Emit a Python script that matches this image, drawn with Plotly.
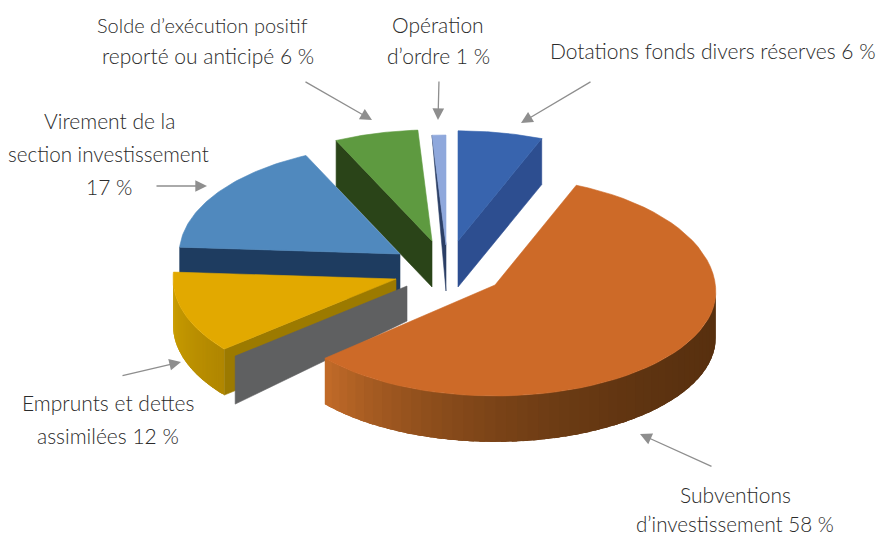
import math
import plotly.graph_objects as go

# ---- data (clockwise from the top of the pie) ----
categories = ["Dotations fonds divers réserves", "Subventions d'investissement",
              "Emprunts et dettes assimilées", "Virement de la section investissement",
              "Solde d'exécution positif reporté ou anticipé", "Opération d'ordre"]
values = [6, 58, 12, 17, 6, 1]
label_lines = ["Solde d’exécution positif", "reporté ou anticipé 6 %",
               "Opération", "d’ordre 1 %",
               "Dotations fonds divers réserves 6 %",
               "Virement de la", "section investissement", "17 %",
               "Emprunts et dettes", "assimilées 12 %",
               "Subventions", "d’investissement 58 %"]

# ---- styles ----
top_colors = ["#3864AE", "#CD6A28", "#E2A900", "#5089BE", "#5E9A40", "#8FA8DC"]
cut_colors = ["#2D4E90", "#B8601F", "#9C7A00", "#1E3C60", "#2A4418", "#2C3F66"]
rim_from = ["#2D4E90", "#C06A28", "#CDA000", "#1E3C60", "#2A4418", "#2C3F66"]
rim_to = ["#2D4E90", "#58300F", "#B08600", "#1E3C60", "#2A4418", "#2C3F66"]

# ---- layout ----
LABEL_POS = [(202, 24.5), (208, 55.5), (438, 24.5), (438, 55.5), (713, 50.5), (109, 120.5),
             (108, 153.5), (109, 186.5), (108, 402.5), (108, 435.5), (735.5, 494), (735, 524)]
LABEL_SIZE = [20, 21, 21, 21, 21, 21, 20.6, 21, 21, 21, 21, 20.6]
ARROWS = [(304, 81, 372, 120), (439, 80, 438, 120), (592, 81, 521, 123),
          (155, 186, 207, 186), (121, 376, 181, 362), (713, 467, 640, 434)]

RX, RY, DEPTH = 223, 110, 46
START = 0.0
apex = [(458, 241), (495, 285), (396, 279), (400, 254), (432, 241), (446, 245)]
# ellipse centre drop and back/front vertical radii: slight perspective on the big slice
centre_drop = [0, 7, 0, 0, 0, 0]
ry_back = [108, 116, RY, RY, RY, RY]
ry_front = [RY, 105, RY, RY, RY, RY]
radii = [1.02, 0.99, 1.0, 0.99, 1.01, 1.0]
GREY_SHIFT = (11, 7)
GREY = "#5F6061"


def hex_mix(a, b, t):
    ca = [int(a[i:i + 2], 16) for i in (1, 3, 5)]
    cb = [int(b[i:i + 2], 16) for i in (1, 3, 5)]
    return "#%02X%02X%02X" % tuple(round(x + (y - x) * t) for x, y in zip(ca, cb))


def rim_pt(i, ang, dz=0):
    r = math.radians(ang)
    c = apex[i]
    cs = math.cos(r)
    ry = ry_back[i] if cs > 0 else ry_front[i]
    return (c[0] + RX * radii[i] * math.sin(r),
            c[1] + centre_drop[i] - ry * radii[i] * cs + dz)


def arc(i, a0, a1, dz=0, n=60):
    return [rim_pt(i, a0 + (a1 - a0) * j / n, dz) for j in range(n + 1)]


fig = go.Figure()


def poly(pts, color, name="", lw=0.6):
    fig.add_trace(go.Scatter(
        x=[p[0] for p in pts] + [pts[0][0]], y=[p[1] for p in pts] + [pts[0][1]],
        mode="lines", fill="toself", fillcolor=color,
        line=dict(color=color, width=lw), hoverinfo="skip", name=name, showlegend=False))


spans = []
a = START
for v in values:
    spans.append((a, a + v * 3.6))
    a += v * 3.6


def draw_slice(i):
    a0, a1 = spans[i]
    c = apex[i]
    # cut faces
    if i == 0:
        poly([c, rim_pt(i, a1), rim_pt(i, a1, DEPTH), (c[0], c[1] + DEPTH)], cut_colors[i])
    elif i in (2, 3, 4):
        poly([c, rim_pt(i, a0), rim_pt(i, a0, DEPTH), (c[0], c[1] + DEPTH)], cut_colors[i])
    elif i == 5:
        poly([c, rim_pt(i, a0), (c[0], c[1] + DEPTH)], cut_colors[i])
    # outer rim, front half only
    lo, hi = max(a0, 90), min(a1, 270)
    if hi > lo:
        n = 50
        step = (hi - lo) / n
        for j in range(n):
            s0 = lo + step * j
            s1 = min(hi, s0 + step * 2.5)   # overlap the next band to hide seams
            f = j / (n - 1)
            col = hex_mix(rim_to[i], rim_from[i], f ** 2.5 if i == 1 else f)
            poly(arc(i, s0, s1, 0, 4) + arc(i, s1, s0, DEPTH, 4), col, lw=0)
    # top
    poly([c] + arc(i, a0, a1), top_colors[i], categories[i])


for i in (4, 5, 0, 3, 2):
    draw_slice(i)

# grey face behind the yellow slice
c2 = apex[2]
o2 = rim_pt(2, spans[2][0])
s2 = (c2[0] + GREY_SHIFT[0], c2[1] + GREY_SHIFT[1])
t2 = (o2[0] + GREY_SHIFT[0], o2[1] + GREY_SHIFT[1])
poly([s2, t2, (t2[0], t2[1] + DEPTH + 2), (s2[0], s2[1] + DEPTH - 11)], GREY)

draw_slice(1)

annotations = []
for text, (x, y), size in zip(label_lines, LABEL_POS, LABEL_SIZE):
    annotations.append(dict(x=x, y=y, text=text, showarrow=False, xanchor="center", yanchor="middle",
                            font=dict(family="Lato", size=size, color="#2B2B2B", weight=300)))
for x0, y0, x1, y1 in ARROWS:
    annotations.append(dict(x=x1, y=y1, ax=x0, ay=y0, axref="x", ayref="y", text="", showarrow=True,
                            arrowhead=2, arrowsize=1.8, arrowwidth=1.3, arrowcolor="#8E8E8E"))

fig.update_layout(
    width=878, height=538, margin=dict(l=0, r=0, t=0, b=0),
    paper_bgcolor="white", plot_bgcolor="white", showlegend=False,
    xaxis=dict(range=[0, 878], visible=False, fixedrange=True),
    yaxis=dict(range=[538, 0], visible=False, fixedrange=True),
    annotations=annotations,
)
fig.write_html("out.html", config=dict(displayModeBar=False),
               post_script="document.body.style.margin='0';document.documentElement.style.overflow='hidden';")
